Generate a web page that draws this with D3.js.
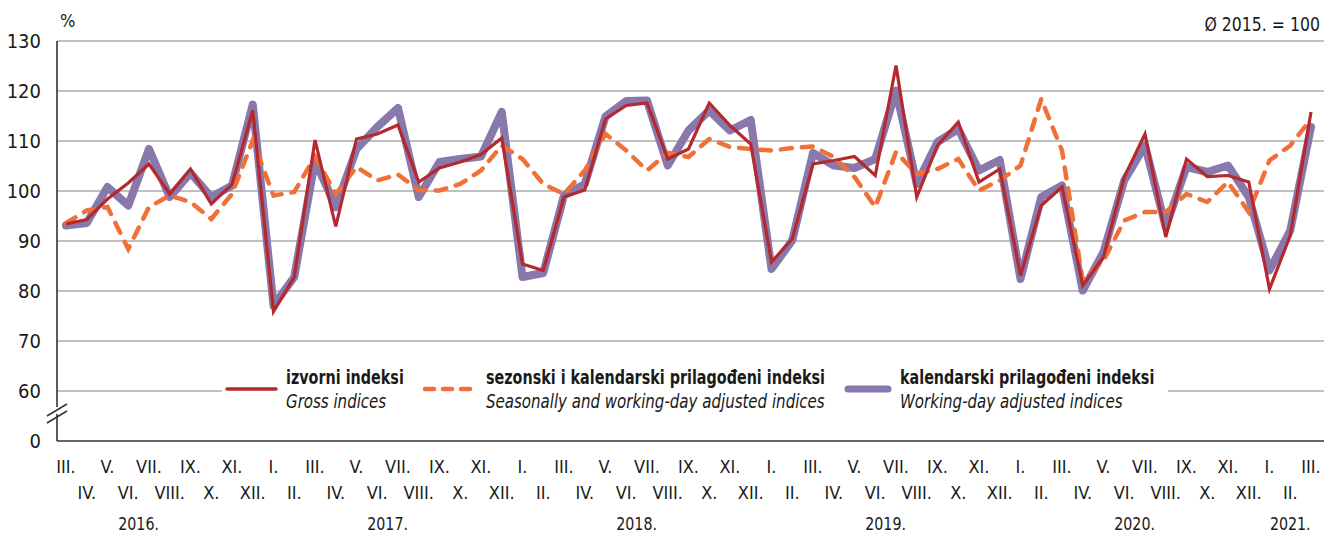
<!DOCTYPE html>
<html lang="hr">
<head>
  <meta charset="UTF-8">
  <title>Indeksi</title>
  <script src="https://d3js.org/d3.v7.min.js"></script>
  <style>
    body { margin: 0; background: #fff; }
    svg text { font-family: "Liberation Sans Narrow", "DejaVu Sans Condensed", "Roboto", sans-serif; fill: #1a1a1a; }
  </style>
</head>
<body>
  <svg id="chart" width="1324" height="535"></svg>
  <script>
    // months III. 2016 - III. 2021
    const romans = ['I.', 'II.', 'III.', 'IV.', 'V.', 'VI.', 'VII.', 'VIII.', 'IX.', 'X.', 'XI.', 'XII.'];
    const months = d3.range(61).map(i => romans[(i + 2) % 12]);
    const years = ['2016.', '2017.', '2018.', '2019.', '2020.', '2021.'];
    const yTicks = [0, 60, 70, 80, 90, 100, 110, 120, 130];

    // izvorni indeksi
    const gross = [93.4, 94.3, 98.4, 101.6, 105.4, 99.4, 104.4, 97.4, 101.3, 116.1,
      75.9, 82.8, 110.2, 92.9, 110.4, 111.4, 113.2, 101.8, 104.6, 105.8, 107.3, 110.6,
      85.4, 84.1, 98.8, 100.2, 114.4, 117.1, 117.6, 106.4, 108.4, 117.6, 113.1, 109.4,
      85.8, 90.4, 105.4, 106.1, 106.9, 103.1, 125.1, 98.8, 109.1, 113.8, 101.8, 104.4,
      83.1, 97.1, 100.8, 81.1, 86.8, 102.8, 111.4, 90.8, 106.4, 102.9, 103.1, 101.8,
      80.4, 91.1, 115.8];
    // sezonski i kalendarski prilagodeni indeksi
    const seasonal = [93.6, 96.1, 96.8, 88.4, 96.8, 99.1, 97.8, 94.4, 99.4, 110.1,
      99.1, 99.8, 106.9, 99.4, 104.8, 102.1, 103.3, 100.2, 100.1, 101.4, 104.1, 109.1,
      106.4, 101.4, 99.4, 104.1, 111.4, 108.1, 104.1, 107.6, 106.8, 110.4, 108.8, 108.4,
      108.1, 108.6, 108.9, 106.8, 102.8, 96.8, 107.8, 103.4, 104.4, 106.4, 100.1, 102.1,
      105.1, 118.4, 108.1, 82.1, 86.1, 94.1, 95.8, 95.8, 99.4, 97.8, 101.8, 95.8,
      106.1, 109.1, 114.4];
    // kalendarski prilagodeni indeksi
    const working = [93.1, 93.6, 100.8, 97.1, 108.4, 98.8, 103.6, 98.8, 101.1, 117.3,
      77.1, 82.8, 106.1, 96.8, 108.4, 112.8, 116.6, 98.8, 105.8, 106.4, 106.9, 115.8,
      82.8, 83.6, 99.1, 101.4, 114.9, 118.0, 118.1, 105.1, 112.1, 116.1, 112.1, 114.2,
      84.4, 90.1, 107.6, 105.1, 104.6, 106.4, 120.1, 101.4, 109.8, 112.4, 104.1, 106.2,
      82.4, 98.8, 101.1, 80.1, 87.8, 102.1, 109.1, 92.8, 104.8, 103.8, 105.1, 98.8,
      84.1, 92.1, 112.8];

    const svg = d3.select('#chart');
    const plotLeft = 57, plotRight = 1324, plotTop = 41, plotBottom = 441;

    const x = d3.scaleLinear().domain([0, months.length - 1]).range([66, 1311]);
    // broken axis: 0 sits below 60
    const y = d3.scaleLinear().domain([0, 60, 130]).range([plotBottom, 391, plotTop]);

    // squeeze text horizontally (the original uses a condensed face)
    function squeeze(sel, k) {
      sel.each(function () {
        const t = d3.select(this);
        const tx = +t.attr('x'), ty = +t.attr('y');
        t.attr('x', 0).attr('y', 0).attr('transform', `translate(${tx},${ty}) scale(${k},1)`);
      });
    }

    // grid
    svg.append('g').selectAll('line')
      .data(yTicks.filter(d => d > 0))
      .join('line')
      .attr('x1', plotLeft).attr('x2', plotRight)
      .attr('y1', d => y(d)).attr('y2', d => y(d))
      .attr('stroke', '#808080').attr('stroke-width', 1.2);

    // y labels
    svg.append('g').selectAll('text')
      .data(yTicks)
      .join('text')
      .attr('x', 41).attr('y', d => y(d))
      .attr('dy', '0.36em')
      .attr('text-anchor', 'end')
      .attr('font-size', 20)
      .text(d => d);

    svg.append('text').attr('x', 60).attr('y', 27).attr('font-size', 18).text('%');
    svg.append('text').attr('x', 1320).attr('y', 31).attr('font-size', 19)
      .attr('text-anchor', 'end').text('Ø 2015. = 100')
      .call(squeeze, 0.92);

    // axes
    svg.append('line').attr('x1', plotLeft).attr('x2', plotRight).attr('y1', plotBottom).attr('y2', plotBottom)
      .attr('stroke', '#333').attr('stroke-width', 1.6);
    svg.append('line').attr('x1', plotLeft).attr('x2', plotLeft).attr('y1', plotTop).attr('y2', 407)
      .attr('stroke', '#333').attr('stroke-width', 1.6);
    svg.append('line').attr('x1', plotLeft).attr('x2', plotLeft).attr('y1', 414).attr('y2', plotBottom)
      .attr('stroke', '#333').attr('stroke-width', 1.6);
    [0, 7].forEach(o => {
      svg.append('line')
        .attr('x1', 47).attr('y1', 416 + o).attr('x2', 67).attr('y2', 404 + o)
        .attr('stroke', '#333').attr('stroke-width', 1.5);
    });

    // month labels, two rows
    svg.append('g').selectAll('text')
      .data(months)
      .join('text')
      .attr('x', (d, i) => x(i))
      .attr('y', (d, i) => i % 2 === 0 ? 473 : 499)
      .attr('text-anchor', 'middle')
      .attr('font-size', 18)
      .text(d => d);

    // year labels centred over Jan..Dec (clipped at the last month)
    svg.append('g').selectAll('text')
      .data(years)
      .join('text')
      .attr('x', (d, k) => {
        const jan = 10 + (k - 1) * 12;
        const dec = Math.min(jan + 11, months.length - 1);
        return x((jan + dec) / 2);
      })
      .attr('y', 530)
      .attr('text-anchor', 'middle')
      .attr('font-size', 18)
      .text(d => d)
      .call(squeeze, 0.88);

    const line = d3.line().x((d, i) => x(i)).y(d => y(d));

    svg.append('path').datum(working)
      .attr('fill', 'none').attr('stroke', '#8878ab').attr('stroke-width', 8)
      .attr('stroke-linejoin', 'round').attr('stroke-linecap', 'round')
      .attr('d', line);
    svg.append('path').datum(seasonal)
      .attr('fill', 'none').attr('stroke', '#ef7139').attr('stroke-width', 4.5)
      .attr('stroke-dasharray', '11,10').attr('stroke-linecap', 'round')
      .attr('d', line);
    svg.append('path').datum(gross)
      .attr('fill', 'none').attr('stroke', '#b5282d').attr('stroke-width', 3.2)
      .attr('stroke-linejoin', 'miter')
      .attr('d', line);

    // legend
    const lg = svg.append('g');
    lg.append('rect').attr('x', 222).attr('y', 366).attr('width', 946).attr('height', 48).attr('fill', '#fff');
    const items = [
      { x: 227, w: 49, tx: 286, a: 'izvorni indeksi', b: 'Gross indices', c: '#b5282d', sw: 3.5, dash: null },
      { x: 425, w: 50, tx: 486, a: 'sezonski i kalendarski prilagođeni indeksi', b: 'Seasonally and working-day adjusted indices', c: '#ef7139', sw: 4.5, dash: '9,9' },
      { x: 848, w: 40, tx: 900, a: 'kalendarski prilagođeni indeksi', b: 'Working-day adjusted indices', c: '#8878ab', sw: 7, dash: null }
    ];
    items.forEach(it => {
      lg.append('line').attr('x1', it.x).attr('x2', it.x + it.w).attr('y1', 389).attr('y2', 389)
        .attr('stroke', it.c).attr('stroke-width', it.sw)
        .attr('stroke-linecap', 'round')
        .attr('stroke-dasharray', it.dash);
      lg.append('text').attr('x', it.tx).attr('y', 384).attr('font-size', 19)
        .attr('font-weight', 'bold').text(it.a)
        .call(squeeze, 0.84);
      lg.append('text').attr('x', it.tx).attr('y', 408).attr('font-size', 19)
        .attr('font-style', 'italic').text(it.b)
        .call(squeeze, 0.88);
    });
  </script>
</body>
</html>
